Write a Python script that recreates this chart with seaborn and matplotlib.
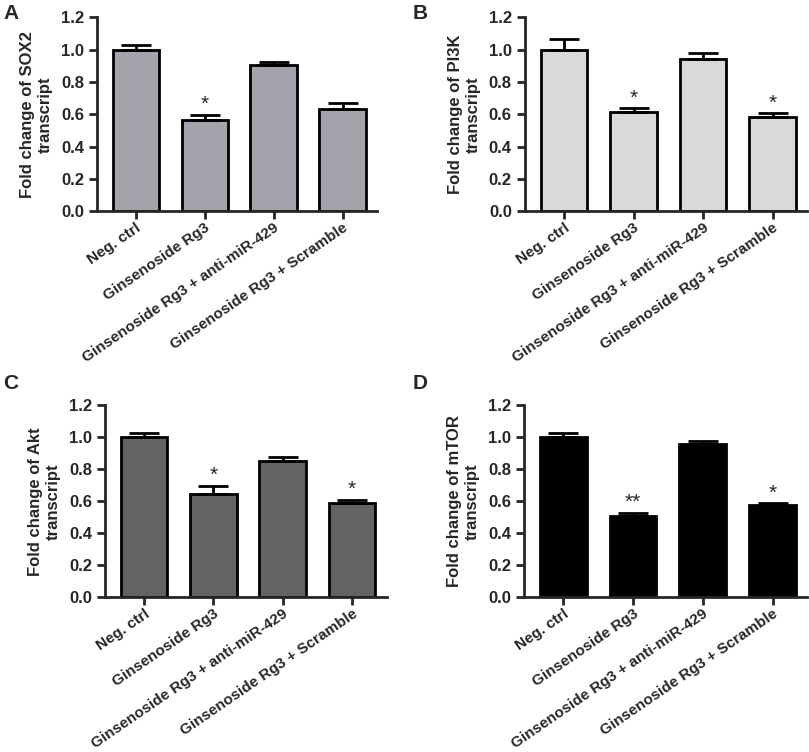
import numpy as np
import pandas as pd
import seaborn as sns
import matplotlib.pyplot as plt

sns.set_style('ticks')
plt.rcParams['font.family'] = ['Liberation Sans', 'DejaVu Sans']
plt.rcParams['font.weight'] = 'bold'

groups = ['Neg. ctrl', 'Ginsenoside Rg3', 'Ginsenoside Rg3 + anti-miR-429',
          'Ginsenoside Rg3 + Scramble']

sox2_mean = [1.00, 0.563, 0.903, 0.633]
sox2_err = [0.027, 0.035, 0.023, 0.039]
sox2_stars = ['', '*', '', '']

pi3k_mean = [1.00, 0.614, 0.944, 0.586]
pi3k_err = [0.066, 0.023, 0.035, 0.020]
pi3k_stars = ['', '*', '', '*']

akt_mean = [1.00, 0.643, 0.853, 0.591]
akt_err = [0.027, 0.052, 0.025, 0.019]
akt_stars = ['', '*', '', '*']

mtor_mean = [1.00, 0.506, 0.956, 0.575]
mtor_err = [0.027, 0.023, 0.023, 0.012]
mtor_stars = ['', '**', '', '*']

# letter, gene, means, errors, stars, bar colour, axes rect, letter position
panels = [
    ('A', 'SOX2', sox2_mean, sox2_err, sox2_stars, '#a3a3ab',
     [0.120, 0.719, 0.346, 0.258], (0.004, 0.995)),
    ('B', 'PI3K', pi3k_mean, pi3k_err, pi3k_stars, '#d9d9d9',
     [0.649, 0.719, 0.349, 0.258], (0.510, 0.995)),
    ('C', 'Akt', akt_mean, akt_err, akt_stars, '#636363',
     [0.130, 0.206, 0.348, 0.255], (0.004, 0.502)),
    ('D', 'mTOR', mtor_mean, mtor_err, mtor_stars, '#000000',
     [0.648, 0.206, 0.350, 0.255], (0.510, 0.502)),
]

fig = plt.figure(figsize=(8.09, 7.52), dpi=100)

for letter, gene, means, errs, stars, col, rect, lpos in panels:
    ax = fig.add_axes(rect)
    df = pd.DataFrame({'group': groups, 'value': means})
    sns.barplot(data=df, x='group', y='value', color=col, saturation=1,
                edgecolor='black', linewidth=2, width=0.67, ax=ax)
    xs = np.arange(len(groups))
    ax.errorbar(xs, means, yerr=[np.zeros(len(errs)), errs], fmt='none',
                ecolor='black', elinewidth=2, capsize=11, capthick=2, zorder=1)
    for x, m, e, s in zip(xs, means, errs, stars):
        if s:
            ax.text(x, m + e + 0.005, s, ha='center', va='bottom',
                    fontsize=15, fontweight='normal')
    ax.set_ylim(0, 1.2)
    ax.set_xlim(-0.56, 3.5)
    ax.set_yticks(np.arange(0, 1.21, 0.2))
    ax.set_yticklabels([f'{v:.1f}' for v in np.arange(0, 1.21, 0.2)],
                       fontsize=12, fontweight='bold')
    ax.set_xticks(xs)
    ax.set_xticklabels(groups, rotation=34.5, ha='right', rotation_mode='anchor',
                       fontsize=11, fontweight='bold')
    ax.set_xlabel('')
    ax.set_ylabel(f'Fold change of {gene}\ntranscript', fontsize=12,
                  fontweight='bold', labelpad=6)
    ax.tick_params(width=2, length=6)
    ax.tick_params(axis='x', pad=1)
    sns.despine(ax=ax)
    for sp in ['left', 'bottom']:
        ax.spines[sp].set_linewidth(2)
    fig.text(lpos[0], lpos[1], letter, fontsize=15, fontweight='bold',
             ha='left', va='top')

fig.savefig('out.png', dpi=100)
